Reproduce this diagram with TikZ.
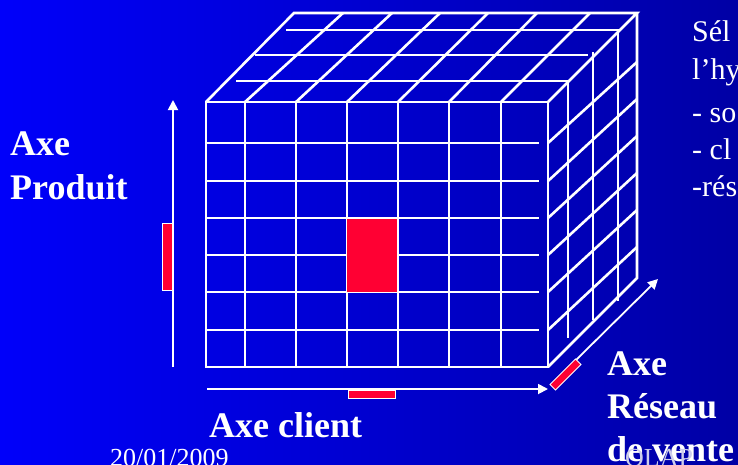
\documentclass[tikz,border=0pt]{standalone}
\usepackage{fontspec}
\setmainfont{Liberation Serif}
\usetikzlibrary{arrows.meta}
\definecolor{bgleft}{RGB}{0,0,250}
\definecolor{bgright}{RGB}{0,0,165}
\definecolor{cellred}{RGB}{255,0,51}
\definecolor{footgray}{RGB}{205,205,235}
\begin{document}
\begin{tikzpicture}[x=1pt,y=-1pt,
  grid/.style={white,line width=2.6pt},
  axis/.style={white,line width=1.8pt,-{Triangle[length=10pt,width=10pt]}},
  bar/.style={fill=cellred,draw=white,line width=1pt},
  big/.style={text=white,font=\fontsize{36}{43}\selectfont\bfseries,anchor=base west,inner sep=0pt},
  side/.style={text=white,font=\fontsize{30}{36}\selectfont,anchor=base west,inner sep=0pt},
  foot/.style={font=\fontsize{26}{30}\selectfont,anchor=base west,inner sep=0pt}]
\useasboundingbox (0,0) rectangle (738,464);
\shade[left color=bgleft,right color=bgright] (0,0) rectangle (738,464);

% front face
\foreach \x in {245,296,347,398,449,501} \draw[grid] (\x,102) -- (\x,367);
\foreach \y in {143,181,218,255,292,330} \draw[grid] (206,\y) -- (539,\y);
\draw[grid] (206,102) rectangle (548,367);

% top face
\draw[grid] (206,102) -- (294,13) -- (637,13) -- (548,102);
\foreach \a/\b in {245/343,296/392,347/440,398/488,449/537,501/590}
  \draw[grid] (\a,102) -- (\b,13);
\draw[grid] (286,30) -- (618,30) -- (618,301);
\draw[grid] (255,55) -- (588,55);
\draw[grid] (593,52) -- (593,320);
\draw[grid] (236,81) -- (568,81) -- (568,338);

% right face
\draw[grid] (637,13) -- (637,278) -- (548,367);
\foreach \f/\b in {143/62,181/99,218/136,255/173,292/210,330/247}
  \draw[grid] (548,\f) -- (637,\b);

% selected cell
\fill[cellred] (346.7,219.3) rectangle (397.2,292);

% axes
\coordinate (pbot) at (173,367);
\coordinate (ptop) at (173,100);
\draw[axis] (pbot) -- (ptop);
\draw[bar] (162.5,223) rectangle (172,290);

\coordinate (cleft) at (207,389);
\coordinate (cright) at (548,389);
\draw[axis] (cleft) -- (cright);
\draw[bar] (348.5,390) rectangle (395.5,398.5);

\coordinate (rbot) at (576,360);
\coordinate (rtop) at (658,279);
\draw[axis] (rbot) -- (rtop);
\draw[bar] (550,384.5) -- (575.5,359) -- (581,364.5) -- (555.5,390) -- cycle;

% labels
\node[big] (axp1) at (10,155) {Axe};
\node[big] (axp2) at (10,199) {Produit};
\node[big] (axc) at (209,437) {Axe client};
\node[side] (s1) at (692,41) {Sél};
\node[side] (s2) at (692,79) {l’hy};
\node[side] (s3) at (692,122) {- so};
\node[side] (s4) at (692,159) {- cl};
\node[side] (s5) at (692,196) {-rés};
\node[foot,text=white] (date) at (110,466) {20/01/2009};
\node[big] (axr1) at (607,375) {Axe};
\node[big] (axr2) at (607,418) {Réseau};
\node[big] (axr3) at (607,461) {de vente};
\node[foot,text=footgray] (olap) at (625,466) {OLAP};
\end{tikzpicture}
\end{document}
